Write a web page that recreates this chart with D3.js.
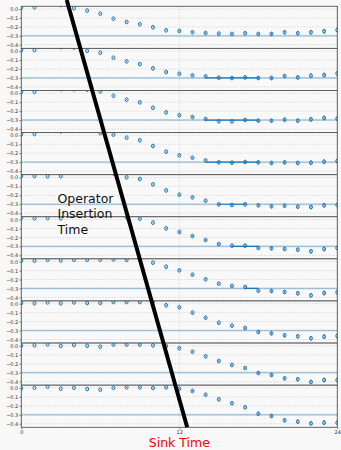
<!DOCTYPE html>
<html>
<head>
<meta charset="utf-8">
<script src="https://cdn.jsdelivr.net/npm/d3@7"></script>
<style>
  html, body { margin: 0; padding: 0; background: #f8f8f8; }
  svg { display: block; font-family: "DejaVu Sans", sans-serif; }
</style>
</head>
<body>
<svg id="chart" width="341" height="450"></svg>
<script>
// Sink timeslices (x axis)
const sinkTimes = [0,1,2,3,4,5,6,7,8,9,10,11,12,13,14,15,16,17,18,19,20,21,22,23,24];

// One ratio series per operator insertion time, top panel first
const row1  = [0.018, 0.018, 0.08, 0.045, 0.008, -0.018, -0.052, -0.108, -0.145, -0.171, -0.204, -0.238, -0.245, -0.26, -0.268, -0.275, -0.279, -0.271, -0.279, -0.279, -0.26, -0.271, -0.26, -0.249, -0.234];
const row2  = [0.011, 0.011, 0.08, 0.045, 0.04, 0.004, -0.018, -0.074, -0.115, -0.145, -0.193, -0.234, -0.253, -0.271, -0.282, -0.297, -0.301, -0.294, -0.301, -0.301, -0.279, -0.294, -0.275, -0.268, -0.249];
const row3  = [0.015, 0.015, 0.08, 0.045, 0.045, 0.04, 0.02, -0.028, -0.072, -0.102, -0.162, -0.214, -0.247, -0.266, -0.288, -0.314, -0.314, -0.299, -0.307, -0.307, -0.296, -0.307, -0.292, -0.277, -0.284];
const row4  = [0.014, 0.014, 0.08, 0.045, 0.08, 0.08, 0.025, 0.007, -0.027, -0.056, -0.12, -0.183, -0.224, -0.25, -0.28, -0.302, -0.306, -0.298, -0.302, -0.309, -0.302, -0.309, -0.306, -0.295, -0.287];
const row5  = [0.015, 0.015, 0.012, 0.015, 0.08, 0.08, 0.08, 0.045, 0.0, -0.018, -0.078, -0.145, -0.193, -0.223, -0.26, -0.301, -0.309, -0.301, -0.312, -0.323, -0.316, -0.327, -0.331, -0.312, -0.309];
const row6  = [0.02, 0.013, 0.015, 0.013, 0.08, 0.08, 0.08, 0.08, 0.025, 0.009, -0.035, -0.099, -0.14, -0.184, -0.229, -0.274, -0.292, -0.292, -0.318, -0.322, -0.329, -0.337, -0.355, -0.329, -0.318];
const row7  = [0.01, 0.01, 0.021, 0.014, 0.021, 0.021, 0.021, 0.025, 0.018, 0.02, -0.012, -0.057, -0.098, -0.146, -0.198, -0.246, -0.272, -0.284, -0.325, -0.328, -0.339, -0.354, -0.377, -0.351, -0.343];
const row8  = [0.008, 0.004, 0.015, 0.004, 0.015, 0.008, 0.008, 0.019, 0.019, 0.019, 0.02, -0.018, -0.041, -0.1, -0.156, -0.212, -0.245, -0.271, -0.316, -0.331, -0.353, -0.364, -0.387, -0.368, -0.36];
const row9  = [0.001, 0.005, 0.016, -0.002, 0.009, 0.001, -0.01, 0.013, 0.013, 0.013, 0.005, -0.002, -0.028, -0.066, -0.118, -0.17, -0.214, -0.248, -0.304, -0.326, -0.363, -0.374, -0.404, -0.382, -0.382];
const row10 = [-0.005, 0.002, 0.014, -0.009, 0.002, -0.012, -0.02, 0.002, 0.006, 0.006, -0.001, 0.006, -0.009, -0.035, -0.076, -0.128, -0.172, -0.217, -0.288, -0.314, -0.362, -0.377, -0.396, -0.388, -0.388];

// Statistical uncertainty per sink time
const errs = [0.003, 0.003, 0.003, 0.004, 0.004, 0.005, 0.005, 0.006, 0.006, 0.007, 0.008, 0.009, 0.010, 0.011, 0.012, 0.013, 0.014, 0.015, 0.017, 0.019, 0.021, 0.023, 0.025, 0.027, 0.030];

// Fitted plateau value, its band, and fit windows per panel
const plateau = -0.3;
const plateauErr = 0.012;
const fitWindows = [null, [14, 18], [14, 18], [14, 18], [15, 17], [16, 18], [17, 18], null, null, null];

// Tick labels
const yTicks = [0.0, -0.1, -0.2, -0.3, -0.4];
const xTicks = [0, 12, 24];

// Guide line across the stack, in (sink time, panel row) coordinates
const insertionGuide = [{ t: 3.45, row: -0.15 }, { t: 12.6, row: 10 }];

const rows = [row1, row2, row3, row4, row5, row6, row7, row8, row9, row10];

// Layout
const W = 341, H = 450;
const plotLeft = 21.3, plotRight = 337.3, plotTop = 6.3, panelH = 42.1;
const nRows = rows.length;
const blue = "#1f77b4";

const svg = d3.select("#chart");
svg.append("rect").attr("width", W).attr("height", H).attr("fill", "#f8f8f8");

const x = d3.scaleLinear().domain([0, 24]).range([plotLeft, plotRight]);
const y = d3.scaleLinear().domain([-0.44, 0.03]).range([panelH, 0]);
const rowY = d3.scaleLinear().domain([0, nRows]).range([plotTop, plotTop + nRows * panelH]);

const defs = svg.append("defs");

rows.forEach((vals, i) => {
  const g = svg.append("g").attr("transform", `translate(0,${rowY(i)})`);
  const clipId = `clip${i}`;
  defs.append("clipPath").attr("id", clipId)
    .append("rect").attr("x", plotLeft).attr("y", 0)
    .attr("width", plotRight - plotLeft).attr("height", panelH);

  // panel background
  g.append("rect").attr("x", plotLeft).attr("y", 0)
    .attr("width", plotRight - plotLeft).attr("height", panelH)
    .attr("fill", "#f9f9f9");

  // grid
  g.selectAll(".hgrid").data(yTicks).join("line")
    .attr("x1", plotLeft).attr("x2", plotRight)
    .attr("y1", d => y(d)).attr("y2", d => y(d))
    .attr("stroke", "#c9c9c9").attr("stroke-width", 0.6)
    .attr("stroke-dasharray", "1.5,1.5");
  g.selectAll(".vgrid").data(xTicks).join("line")
    .attr("x1", d => x(d)).attr("x2", d => x(d))
    .attr("y1", 0).attr("y2", panelH)
    .attr("stroke", "#c9c9c9").attr("stroke-width", 0.6)
    .attr("stroke-dasharray", "1.5,1.5");

  const plot = g.append("g").attr("clip-path", `url(#${clipId})`);

  // plateau band
  plot.append("rect")
    .attr("x", plotLeft).attr("width", plotRight - plotLeft)
    .attr("y", y(plateau + plateauErr))
    .attr("height", y(plateau - plateauErr) - y(plateau + plateauErr))
    .attr("fill", blue).attr("opacity", 0.16);
  plot.append("line")
    .attr("x1", plotLeft).attr("x2", plotRight)
    .attr("y1", y(plateau)).attr("y2", y(plateau))
    .attr("stroke", blue).attr("stroke-width", 0.7).attr("opacity", 0.4);

  // fit window
  const fw = fitWindows[i];
  if (fw) {
    plot.append("line")
      .attr("x1", x(fw[0])).attr("x2", x(fw[1]))
      .attr("y1", y(plateau)).attr("y2", y(plateau))
      .attr("stroke", blue).attr("stroke-width", 1.2);
  }

  const pts = sinkTimes.map((t, k) => ({ t, v: vals[k], e: errs[k] }));

  // error bars
  plot.selectAll(".err").data(pts).join("line")
    .attr("x1", d => x(d.t)).attr("x2", d => x(d.t))
    .attr("y1", d => y(d.v + d.e)).attr("y2", d => y(d.v - d.e))
    .attr("stroke", blue).attr("stroke-width", 0.8);

  // markers
  plot.selectAll(".pt").data(pts).join("ellipse")
    .attr("cx", d => x(d.t)).attr("cy", d => y(d.v))
    .attr("rx", 1.5).attr("ry", 1.9)
    .attr("fill", "none").attr("stroke", blue).attr("stroke-width", 1);

  // y axis
  const ya = g.append("g").attr("transform", `translate(${plotLeft},0)`)
    .call(d3.axisLeft(y).tickValues(yTicks).tickFormat(d3.format(".1f")).tickSize(2).tickPadding(1));
  ya.select(".domain").remove();
  ya.selectAll("line").attr("stroke", "#444").attr("stroke-width", 0.6);
  ya.selectAll("text").attr("font-size", 5).attr("fill", "#333")
    .attr("font-family", "DejaVu Sans, sans-serif");

  // frame
  g.append("rect").attr("x", plotLeft).attr("y", 0)
    .attr("width", plotRight - plotLeft).attr("height", panelH)
    .attr("fill", "none").attr("stroke", "#555").attr("stroke-width", 0.9);
});

// x axis under the stack
const xa = svg.append("g").attr("transform", `translate(0,${rowY(nRows)})`)
  .call(d3.axisBottom(x).tickValues(xTicks).tickFormat(d3.format("d")).tickSize(2).tickPadding(1));
xa.select(".domain").remove();
xa.selectAll("line").attr("stroke", "#444").attr("stroke-width", 0.6);
xa.selectAll("text").attr("font-size", 5).attr("fill", "#333")
  .attr("font-family", "DejaVu Sans, sans-serif");

// insertion-time guide line
svg.append("line")
  .attr("x1", x(insertionGuide[0].t)).attr("y1", rowY(insertionGuide[0].row))
  .attr("x2", x(insertionGuide[1].t)).attr("y2", rowY(insertionGuide[1].row))
  .attr("stroke", "#000").attr("stroke-width", 4);

// annotations
const note = svg.append("text").attr("font-size", 12.5).attr("fill", "#111")
  .attr("font-family", "DejaVu Sans, sans-serif");
["Operator", "Insertion", "Time"].forEach((s, k) => {
  note.append("tspan").attr("x", 57.5).attr("y", 202.5 + k * 15.5).text(s);
});

svg.append("text")
  .attr("x", x(12)).attr("y", 446.5)
  .attr("text-anchor", "middle")
  .attr("font-size", 12.5).attr("fill", "#ff0000")
  .attr("font-family", "DejaVu Sans, sans-serif")
  .text("Sink Time");
</script>
</body>
</html>
